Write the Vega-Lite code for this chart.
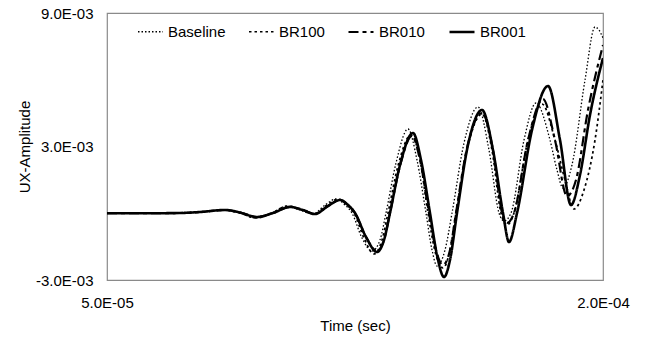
{
  "$schema": "https://vega.github.io/schema/vega-lite/v6.json",
  "width": 496,
  "height": 267,
  "autosize": {"type": "none"},
  "padding": {"left": 107, "top": 13, "right": 46, "bottom": 62},
  "background": "white",
  "config": {
    "font": "Liberation Sans",
    "view": {"stroke": "#8a8a8a", "strokeWidth": 1.2},
    "axis": {"domain": false, "ticks": false, "grid": false, "labelFontSize": 15, "labelColor": "#000", "titleFontSize": 15, "titleFontWeight": "normal", "titleColor": "#000", "labelFont": "Liberation Sans", "titleFont": "Liberation Sans"}
  },
  "layer": [
    {
      "mark": {"type": "rule", "color": "#808080", "strokeWidth": 1},
      "encoding": {"y": {"datum": 0, "type": "quantitative"}}
    },
    {
      "data": {"values": [
        {"s":"Baseline","t":5.000e-5,"v":0},
        {"s":"Baseline","t":6.300e-5,"v":0},
        {"s":"Baseline","t":7.208e-5,"v":0.011e-3},
        {"s":"Baseline","t":7.813e-5,"v":0.056e-3},
        {"s":"Baseline","t":8.508e-5,"v":0.146e-3},
        {"s":"Baseline","t":9.022e-5,"v":0.011e-3},
        {"s":"Baseline","t":9.476e-5,"v":-0.213e-3},
        {"s":"Baseline","t":9.990e-5,"v":0.011e-3},
        {"s":"Baseline","t":1.0444e-4,"v":0.326e-3},
        {"s":"Baseline","t":1.0837e-4,"v":0.146e-3},
        {"s":"Baseline","t":1.1230e-4,"v":-0.034e-3},
        {"s":"Baseline","t":1.1593e-4,"v":0.371e-3},
        {"s":"Baseline","t":1.1925e-4,"v":0.640e-3},
        {"s":"Baseline","t":1.2198e-4,"v":0.371e-3},
        {"s":"Baseline","t":1.2409e-4,"v":0.011e-3},
        {"s":"Baseline","t":1.2712e-4,"v":-1.112e-3},
        {"s":"Baseline","t":1.3014e-4,"v":-1.697e-3},
        {"s":"Baseline","t":1.3256e-4,"v":-1.202e-3},
        {"s":"Baseline","t":1.3437e-4,"v":0.011e-3},
        {"s":"Baseline","t":1.3740e-4,"v":2.258e-3},
        {"s":"Baseline","t":1.4103e-4,"v":3.787e-3},
        {"s":"Baseline","t":1.4375e-4,"v":2.393e-3},
        {"s":"Baseline","t":1.4647e-4,"v":0.011e-3},
        {"s":"Baseline","t":1.4829e-4,"v":-1.652e-3},
        {"s":"Baseline","t":1.4980e-4,"v":-2.371e-3},
        {"s":"Baseline","t":1.5222e-4,"v":-1.652e-3},
        {"s":"Baseline","t":1.5434e-4,"v":0.011e-3},
        {"s":"Baseline","t":1.5797e-4,"v":3.157e-3},
        {"s":"Baseline","t":1.6220e-4,"v":4.775e-3},
        {"s":"Baseline","t":1.6552e-4,"v":2.843e-3},
        {"s":"Baseline","t":1.6855e-4,"v":0.011e-3},
        {"s":"Baseline","t":1.7006e-4,"v":-0.348e-3},
        {"s":"Baseline","t":1.7218e-4,"v":0.011e-3},
        {"s":"Baseline","t":1.7611e-4,"v":3.292e-3},
        {"s":"Baseline","t":1.7974e-4,"v":4.955e-3},
        {"s":"Baseline","t":1.8397e-4,"v":3.292e-3},
        {"s":"Baseline","t":1.8609e-4,"v":1.944e-3},
        {"s":"Baseline","t":1.8790e-4,"v":1.135e-3},
        {"s":"Baseline","t":1.9062e-4,"v":2.169e-3},
        {"s":"Baseline","t":1.9456e-4,"v":5.989e-3},
        {"s":"Baseline","t":1.9758e-4,"v":8.371e-3},
        {"s":"Baseline","t":1.9879e-4,"v":8.235e-3},
        {"s":"Baseline","t":2.0000e-4,"v":7.876e-3},

        {"s":"BR100","t":5.000e-5,"v":0},
        {"s":"BR100","t":6.300e-5,"v":0},
        {"s":"BR100","t":7.208e-5,"v":0.011e-3},
        {"s":"BR100","t":7.813e-5,"v":0.056e-3},
        {"s":"BR100","t":8.538e-5,"v":0.146e-3},
        {"s":"BR100","t":9.022e-5,"v":0.011e-3},
        {"s":"BR100","t":9.506e-5,"v":-0.213e-3},
        {"s":"BR100","t":9.990e-5,"v":0.011e-3},
        {"s":"BR100","t":1.0474e-4,"v":0.326e-3},
        {"s":"BR100","t":1.0867e-4,"v":0.146e-3},
        {"s":"BR100","t":1.1260e-4,"v":-0.034e-3},
        {"s":"BR100","t":1.1653e-4,"v":0.371e-3},
        {"s":"BR100","t":1.1986e-4,"v":0.640e-3},
        {"s":"BR100","t":1.2258e-4,"v":0.371e-3},
        {"s":"BR100","t":1.2470e-4,"v":0.011e-3},
        {"s":"BR100","t":1.2772e-4,"v":-1.112e-3},
        {"s":"BR100","t":1.3075e-4,"v":-1.831e-3},
        {"s":"BR100","t":1.3317e-4,"v":-1.202e-3},
        {"s":"BR100","t":1.3498e-4,"v":0.011e-3},
        {"s":"BR100","t":1.3800e-4,"v":2.124e-3},
        {"s":"BR100","t":1.4194e-4,"v":3.517e-3},
        {"s":"BR100","t":1.4466e-4,"v":2.393e-3},
        {"s":"BR100","t":1.4708e-4,"v":0.011e-3},
        {"s":"BR100","t":1.4950e-4,"v":-1.876e-3},
        {"s":"BR100","t":1.5161e-4,"v":-2.461e-3},
        {"s":"BR100","t":1.5373e-4,"v":-1.652e-3},
        {"s":"BR100","t":1.5554e-4,"v":0.011e-3},
        {"s":"BR100","t":1.5887e-4,"v":2.843e-3},
        {"s":"BR100","t":1.6341e-4,"v":4.461e-3},
        {"s":"BR100","t":1.6643e-4,"v":2.843e-3},
        {"s":"BR100","t":1.6915e-4,"v":0.011e-3},
        {"s":"BR100","t":1.7097e-4,"v":-0.528e-3},
        {"s":"BR100","t":1.7308e-4,"v":0.011e-3},
        {"s":"BR100","t":1.7732e-4,"v":3.292e-3},
        {"s":"BR100","t":1.8155e-4,"v":4.910e-3},
        {"s":"BR100","t":1.8548e-4,"v":3.292e-3},
        {"s":"BR100","t":1.8851e-4,"v":1.494e-3},
        {"s":"BR100","t":1.9123e-4,"v":0.191e-3},
        {"s":"BR100","t":1.9425e-4,"v":1.045e-3},
        {"s":"BR100","t":1.9758e-4,"v":3.292e-3},
        {"s":"BR100","t":2.0000e-4,"v":5.989e-3},

        {"s":"BR010","t":5.000e-5,"v":0},
        {"s":"BR010","t":6.300e-5,"v":0},
        {"s":"BR010","t":7.208e-5,"v":0.011e-3},
        {"s":"BR010","t":7.813e-5,"v":0.056e-3},
        {"s":"BR010","t":8.569e-5,"v":0.146e-3},
        {"s":"BR010","t":9.022e-5,"v":0.034e-3},
        {"s":"BR010","t":9.536e-5,"v":-0.169e-3},
        {"s":"BR010","t":1.0020e-4,"v":0.011e-3},
        {"s":"BR010","t":1.0534e-4,"v":0.281e-3},
        {"s":"BR010","t":1.0927e-4,"v":0.146e-3},
        {"s":"BR010","t":1.1290e-4,"v":-0.034e-3},
        {"s":"BR010","t":1.1684e-4,"v":0.326e-3},
        {"s":"BR010","t":1.2046e-4,"v":0.596e-3},
        {"s":"BR010","t":1.2288e-4,"v":0.371e-3},
        {"s":"BR010","t":1.2500e-4,"v":0.011e-3},
        {"s":"BR010","t":1.2833e-4,"v":-1.067e-3},
        {"s":"BR010","t":1.3165e-4,"v":-1.697e-3},
        {"s":"BR010","t":1.3377e-4,"v":-1.202e-3},
        {"s":"BR010","t":1.3558e-4,"v":0.011e-3},
        {"s":"BR010","t":1.3861e-4,"v":2.124e-3},
        {"s":"BR010","t":1.4224e-4,"v":3.472e-3},
        {"s":"BR010","t":1.4466e-4,"v":2.393e-3},
        {"s":"BR010","t":1.4738e-4,"v":0.011e-3},
        {"s":"BR010","t":1.4950e-4,"v":-1.652e-3},
        {"s":"BR010","t":1.5161e-4,"v":-2.326e-3},
        {"s":"BR010","t":1.5373e-4,"v":-1.652e-3},
        {"s":"BR010","t":1.5554e-4,"v":0.011e-3},
        {"s":"BR010","t":1.5887e-4,"v":2.933e-3},
        {"s":"BR010","t":1.6341e-4,"v":4.506e-3},
        {"s":"BR010","t":1.6673e-4,"v":2.843e-3},
        {"s":"BR010","t":1.6946e-4,"v":0.011e-3},
        {"s":"BR010","t":1.7097e-4,"v":-0.438e-3},
        {"s":"BR010","t":1.7308e-4,"v":0.011e-3},
        {"s":"BR010","t":1.7732e-4,"v":3.292e-3},
        {"s":"BR010","t":1.8185e-4,"v":5.135e-3},
        {"s":"BR010","t":1.8548e-4,"v":3.292e-3},
        {"s":"BR010","t":1.8911e-4,"v":0.775e-3},
        {"s":"BR010","t":1.9183e-4,"v":1.494e-3},
        {"s":"BR010","t":1.9546e-4,"v":4.640e-3},
        {"s":"BR010","t":2.0000e-4,"v":7.561e-3},

        {"s":"BR001","t":5.000e-5,"v":0},
        {"s":"BR001","t":6.300e-5,"v":0},
        {"s":"BR001","t":7.208e-5,"v":0.011e-3},
        {"s":"BR001","t":7.813e-5,"v":0.056e-3},
        {"s":"BR001","t":8.569e-5,"v":0.146e-3},
        {"s":"BR001","t":9.022e-5,"v":0.034e-3},
        {"s":"BR001","t":9.536e-5,"v":-0.169e-3},
        {"s":"BR001","t":1.0020e-4,"v":0.011e-3},
        {"s":"BR001","t":1.0534e-4,"v":0.281e-3},
        {"s":"BR001","t":1.0927e-4,"v":0.146e-3},
        {"s":"BR001","t":1.1290e-4,"v":-0.034e-3},
        {"s":"BR001","t":1.1684e-4,"v":0.326e-3},
        {"s":"BR001","t":1.2046e-4,"v":0.596e-3},
        {"s":"BR001","t":1.2288e-4,"v":0.371e-3},
        {"s":"BR001","t":1.2500e-4,"v":0.011e-3},
        {"s":"BR001","t":1.2833e-4,"v":-1.067e-3},
        {"s":"BR001","t":1.3165e-4,"v":-1.742e-3},
        {"s":"BR001","t":1.3377e-4,"v":-1.202e-3},
        {"s":"BR001","t":1.3558e-4,"v":0.011e-3},
        {"s":"BR001","t":1.3861e-4,"v":2.168e-3},
        {"s":"BR001","t":1.4254e-4,"v":3.607e-3},
        {"s":"BR001","t":1.4496e-4,"v":2.393e-3},
        {"s":"BR001","t":1.4768e-4,"v":0.011e-3},
        {"s":"BR001","t":1.4980e-4,"v":-1.877e-3},
        {"s":"BR001","t":1.5192e-4,"v":-2.866e-3},
        {"s":"BR001","t":1.5373e-4,"v":-2.101e-3},
        {"s":"BR001","t":1.5585e-4,"v":0.011e-3},
        {"s":"BR001","t":1.5917e-4,"v":3.067e-3},
        {"s":"BR001","t":1.6341e-4,"v":4.640e-3},
        {"s":"BR001","t":1.6673e-4,"v":2.843e-3},
        {"s":"BR001","t":1.6976e-4,"v":0.011e-3},
        {"s":"BR001","t":1.7157e-4,"v":-1.292e-3},
        {"s":"BR001","t":1.7400e-4,"v":0.011e-3},
        {"s":"BR001","t":1.7853e-4,"v":3.742e-3},
        {"s":"BR001","t":1.8337e-4,"v":5.719e-3},
        {"s":"BR001","t":1.8700e-4,"v":3.292e-3},
        {"s":"BR001","t":1.9032e-4,"v":0.371e-3},
        {"s":"BR001","t":1.9304e-4,"v":1.719e-3},
        {"s":"BR001","t":1.9607e-4,"v":4.416e-3},
        {"s":"BR001","t":2.0000e-4,"v":6.977e-3}
      ]},
      "mark": {"type": "line", "interpolate": "monotone", "color": "#000", "clip": true},
      "encoding": {
        "x": {"field": "t", "type": "quantitative", "scale": {"domain": [5e-5, 2e-4], "nice": false, "zero": false},
              "axis": {"values": [5e-5, 2e-4], "labelFlush": false, "labelPadding": 15, "title": "Time (sec)", "titlePadding": 8,
                       "labelExpr": "replace(replace(upper(format(datum.value,'.1e')),'\u2212','-'),regexp('E-(\\\\d)$'),'E-0$1')"}},
        "y": {"field": "v", "type": "quantitative", "scale": {"domain": [-0.003, 0.009], "nice": false, "zero": false},
              "axis": {"values": [-0.003, 0.003, 0.009], "labelPadding": 14, "title": "UX-Amplitude", "titlePadding": 3,
                       "labelExpr": "replace(replace(upper(format(datum.value,'.1e')),'\u2212','-'),regexp('E-(\\\\d)$'),'E-0$1')"}},
        "detail": {"field": "s"},
        "strokeDash": {"field": "s", "type": "nominal",
                       "scale": {"domain": ["Baseline", "BR100", "BR010", "BR001"], "range": [[1.5, 2], [2.5, 3], [10, 4, 4, 4], [1, 0]]},
                       "legend": {"title": null, "orient": "none", "legendX": 30, "legendY": 5, "direction": "horizontal",
                                  "symbolType": "stroke", "symbolSize": 625, "symbolStrokeWidth": 1.5, "symbolStrokeColor": "#000",
                                  "labelFontSize": 15, "labelFontWeight": "normal", "labelColor": "#000", "labelFont": "Liberation Sans", "columnPadding": 19, "labelOffset": 4}},
        "strokeWidth": {"field": "s", "type": "nominal",
                        "scale": {"domain": ["Baseline", "BR100", "BR010", "BR001"], "range": [1.3, 2.6, 2, 1.8]}, "legend": null}
      }
    }
  ]
}
